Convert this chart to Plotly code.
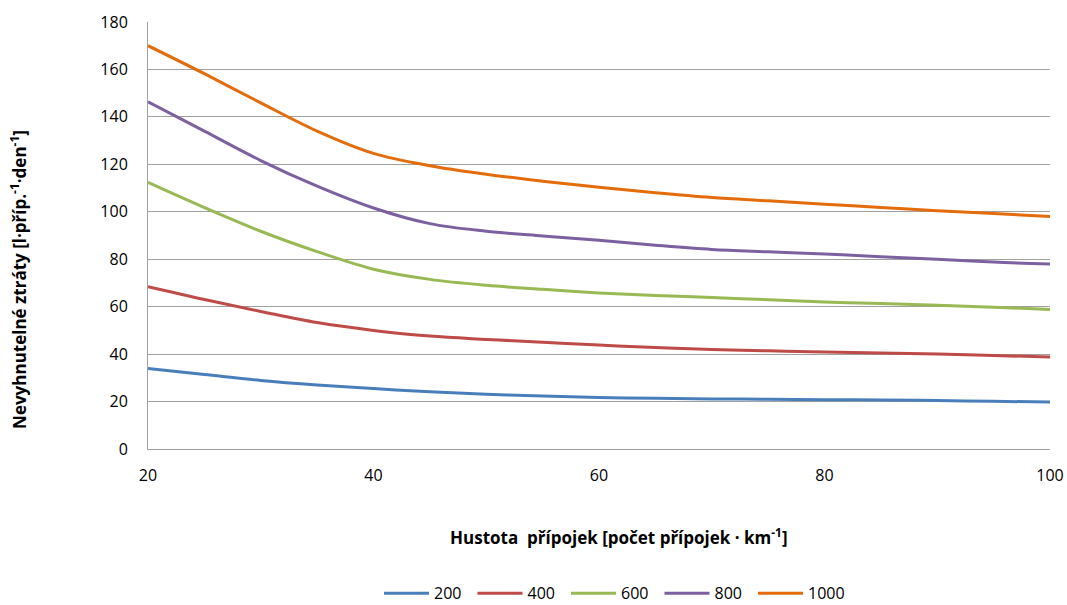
import plotly.graph_objects as go

x_density = [20, 25, 30, 35, 40, 45, 50, 55, 60, 65, 70, 75, 80, 85, 90, 95, 100]
series_names = ["200", "400", "600", "800", "1000"]
s200 = [33.9, 31.4, 28.9, 27.0, 25.5, 24.1, 23.1, 22.3, 21.7, 21.4, 21.1, 21.0, 20.8, 20.7, 20.4, 20.1, 19.8]
s400 = [68.4, 63.0, 58.0, 53.3, 50.0, 47.6, 46.2, 45.0, 43.8, 42.8, 41.9, 41.4, 40.9, 40.5, 40.0, 39.4, 38.8]
s600 = [112.4, 101.8, 91.8, 83.2, 75.8, 71.5, 69.0, 67.3, 65.8, 64.7, 63.9, 62.9, 62.0, 61.3, 60.6, 59.8, 58.8]
s800 = [146.4, 134.0, 121.6, 110.8, 101.6, 95.0, 91.8, 89.8, 88.0, 85.9, 84.1, 83.1, 82.2, 81.0, 80.0, 78.8, 78.0]
s1000 = [170.0, 158.2, 145.9, 134.0, 124.6, 119.4, 115.8, 112.9, 110.3, 108.0, 106.0, 104.6, 103.2, 101.8, 100.4, 99.3, 98.0]
colors = ["#4A7EBB", "#BE4B48", "#98B954", "#7D60A0", "#E46C0A"]

y_ticks = [0, 20, 40, 60, 80, 100, 120, 140, 160, 180]
x_ticks = [20, 40, 60, 80, 100]

FONT = "Open Sans"

fig = go.Figure()
for name, ys, c in zip(series_names, [s200, s400, s600, s800, s1000], colors):
    fig.add_trace(go.Scatter(
        x=x_density, y=ys, name=name, mode="lines",
        line=dict(color=c, width=3, shape="spline", smoothing=1.0),
    ))

fig.update_layout(
    width=1067, height=605,
    margin=dict(l=148, r=17, t=22, b=156, autoexpand=False),
    plot_bgcolor="white", paper_bgcolor="white",
    font=dict(family=FONT, size=16, color="#000000"),
    showlegend=True,
    legend=dict(
        orientation="h", x=0.2561, xanchor="left", y=-0.338, yanchor="middle",
        font=dict(family=FONT, size=16, color="#000000"),
        entrywidth=33.5, entrywidthmode="pixels",
        itemwidth=45, borderwidth=0,
    ),
    xaxis=dict(
        range=[20, 100], tickvals=x_ticks, ticktext=[str(v) for v in x_ticks],
        showgrid=False, zeroline=False, automargin=False,
        showline=True, linecolor="#A0A0A0", linewidth=1,
        ticks="", ticklabelstandoff=12,
        tickfont=dict(family=FONT, size=16),
    ),
    yaxis=dict(
        range=[0, 180], tickvals=y_ticks, ticktext=[str(v) for v in y_ticks],
        showgrid=True, gridcolor="#A0A0A0", gridwidth=1, zeroline=False, automargin=False,
        showline=True, linecolor="#A0A0A0", linewidth=1,
        ticks="", ticklabelstandoff=16,
        tickfont=dict(family=FONT, size=16),
    ),
    annotations=[
        dict(text="<b>Hustota  přípojek [počet přípojek · km<sup>-1</sup>]</b>",
             xref="paper", yref="paper", x=0.522, y=-0.206,
             xanchor="center", yanchor="middle", showarrow=False,
             font=dict(family=FONT, size=17, color="#000000")),
        dict(text="<b>Nevyhnutelné ztráty [l·příp.<sup>-1</sup>·den<sup>-1</sup>]</b>",
             xref="paper", yref="paper", x=-0.143, y=0.396,
             xanchor="center", yanchor="middle", showarrow=False, textangle=-90,
             font=dict(family=FONT, size=17, color="#000000")),
    ],
)

fig.write_html(
    "out.html",
    config={"displayModeBar": False},
    post_script="document.body.style.margin='0px';document.body.style.overflow='hidden';",
)
